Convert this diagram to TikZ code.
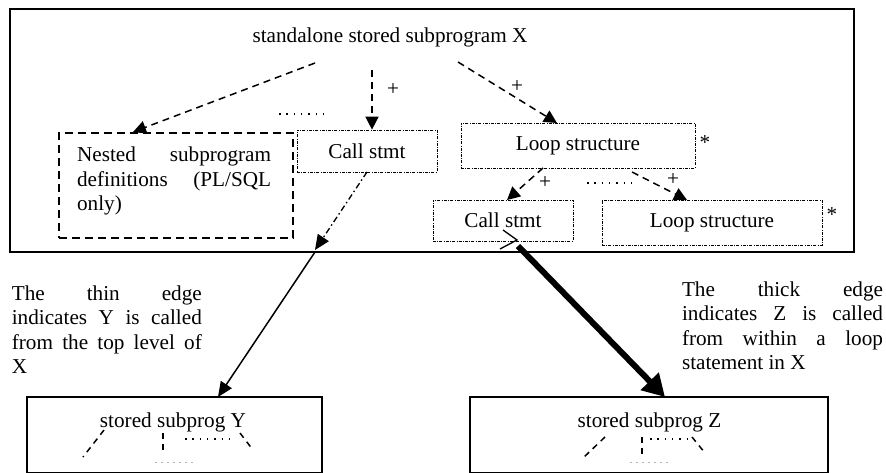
\documentclass[tikz,border=0pt]{standalone}
\usepackage{fontspec}
\setmainfont{Liberation Serif}
\usetikzlibrary{arrows.meta}
\begin{document}
\begin{tikzpicture}[x=1pt,y=-1pt,
  every node/.style={font=\fontsize{21.2}{24.5}\selectfont, inner sep=0pt},
  bigbox/.style={draw, line width=1.9pt, rectangle},
  subbox/.style={draw, line width=1.8pt, rectangle},
  nestbox/.style={draw, line width=1.6pt, dash pattern=on 8pt off 5pt, rectangle},
  stmtbox/.style={draw, line width=0.7pt, dash pattern=on 3pt off 1.3pt on 0.8pt off 1.3pt, rectangle},
  dasharrow/.style={line width=1.5pt, dash pattern=on 7pt off 5pt, -{Triangle[length=13pt,width=13pt]}},
  smalldash/.style={line width=1.5pt, dash pattern=on 6pt off 5pt},
  dotline/.style={line width=1.1pt, dash pattern=on 1.5pt off 5.8pt},
  faintdot/.style={line width=0.8pt, gray!60, dash pattern=on 1.5pt off 4.5pt},
  dashdotarrow/.style={line width=1.3pt, dash pattern=on 6pt off 3pt on 1.5pt off 3pt, -{Triangle[length=15pt,width=13pt]}},
  thinedge/.style={line width=1.5pt, -{Triangle[length=15pt,width=13pt]}},
  thickedge/.style={line width=6pt, -{Triangle[length=22pt,width=24pt]}}
]
\useasboundingbox (0,0) rectangle (886,472);
\clip (0,0) rectangle (886,472);

% main box X
\node[bigbox, minimum width=844pt, minimum height=243pt] (X) at (432,130.5) {};
\node (xtitle) at (390,37) {standalone stored subprogram X};

% nested subprograms
\node[nestbox, minimum width=234pt, minimum height=105pt] (nested) at (176,185.5) {};
\node[align=left] (nestedtxt) at (175,181) {\makebox[194pt][s]{Nested subprogram}\\\makebox[194pt][s]{definitions (PL/SQL}\\only)\hspace*{151pt}};

% statement boxes
\node[stmtbox, minimum width=140pt, minimum height=42pt] (cs1) at (367,151) {Call stmt};
\node[stmtbox, minimum width=234pt, minimum height=45pt] (loop1) at (578,145.5) {Loop structure};
\node[stmtbox, minimum width=140pt, minimum height=41pt] (cs2) at (503,220.5) {Call stmt};
\node[stmtbox, minimum width=220pt, minimum height=45pt] (loop2) at (712,222.5) {Loop structure};
\node (star1) at (705,143) {*};
\node (star2) at (832,215) {*};

% arrows from X title
\coordinate (s1) at (315,63);
\coordinate (t1) at (133,132);
\draw[dasharrow] (s1) -- (t1);
\coordinate (s2) at (372,70);
\draw[dasharrow] (s2) -- (cs1.north -| s2);
\node (plus1) at (393,90) {+};
\coordinate (s3) at (458,62);
\coordinate (t3) at (557,123);
\draw[dasharrow] (s3) -- (t3);
\node (plus2) at (517,87) {+};
\coordinate (d1a) at (279,114);
\coordinate (d1b) at (323,114);
\draw[dotline] (d1a) -- (d1b);

% arrows from loop structure 1
\coordinate (s4) at (543,168);
\coordinate (t4) at (507,200);
\draw[dasharrow] (s4) -- (t4);
\node (plus3) at (545,183) {+};
\coordinate (s5) at (632,172);
\coordinate (t5) at (687,200);
\draw[dasharrow] (s5) -- (t5);
\node (plus4) at (673,180) {+};
\coordinate (d2a) at (587,183);
\coordinate (d2b) at (633,183);
\draw[dotline] (d2a) -- (d2b);

% bottom boxes
\node[subbox, minimum width=295pt, minimum height=76pt] (Y) at (174.5,435) {};
\node (ytitle) at (173,422) {stored subprog Y};
\node[subbox, minimum width=358pt, minimum height=76pt] (Z) at (649,435) {};
\node (ztitle) at (649.5,422) {stored subprog Z};

% edges between X and Y/Z
\coordinate (cs1out) at (367,172);
\coordinate (xexit) at (315,250);
\coordinate (xexit2) at (315,252);
\coordinate (yin) at (218,397);
\draw[dashdotarrow] (cs1out) -- (xexit);
\draw[thinedge] (xexit2) -- (yin);
\coordinate (cs2out) at (518,246);
\coordinate (zin) at (665,397);
\draw[thickedge] (cs2out) -- (zin);
\coordinate (oa) at (503,230);
\coordinate (ob) at (517,240);
\coordinate (oc) at (500,249);
\draw[line width=1.3pt] (oa) -- (ob) -- (oc);

% explanatory text
\node[align=left] (thintxt) at (107,329.5) {\makebox[190pt][s]{The thin edge}\\\makebox[190pt][s]{indicates Y is called}\\\makebox[190pt][s]{from the top level of}\\X\hspace*{175pt}};
\node[align=left] (thicktxt) at (782.5,325.5) {\makebox[201pt][s]{The thick edge}\\\makebox[201pt][s]{indicates Z is called}\\\makebox[201pt][s]{from within a loop}\\statement in X\hspace*{66pt}};

% inner sketch of Y
\coordinate (ya1) at (104,430); \coordinate (ya2) at (83,457);
\draw[smalldash] (ya1) -- (ya2);
\coordinate (yb1) at (163,433); \coordinate (yb2) at (163,453);
\draw[smalldash] (yb1) -- (yb2);
\coordinate (yc1) at (185,439); \coordinate (yc2) at (229,439);
\draw[dotline] (yc1) -- (yc2);
\coordinate (yd1) at (240,433); \coordinate (yd2) at (253,450);
\draw[smalldash] (yd1) -- (yd2);
\coordinate (ye1) at (155,462); \coordinate (ye2) at (194,462);
\draw[faintdot] (ye1) -- (ye2);

% inner sketch of Z
\coordinate (za1) at (605,437); \coordinate (za2) at (583,458);
\draw[smalldash] (za1) -- (za2);
\coordinate (zb1) at (642,437); \coordinate (zb2) at (642,457);
\draw[smalldash] (zb1) -- (zb2);
\coordinate (zc1) at (650,439); \coordinate (zc2) at (691,439);
\draw[dotline] (zc1) -- (zc2);
\coordinate (zd1) at (692,437); \coordinate (zd2) at (705,453);
\draw[smalldash] (zd1) -- (zd2);
\coordinate (ze1) at (630,462); \coordinate (ze2) at (669,462);
\draw[faintdot] (ze1) -- (ze2);
\end{tikzpicture}
\end{document}
